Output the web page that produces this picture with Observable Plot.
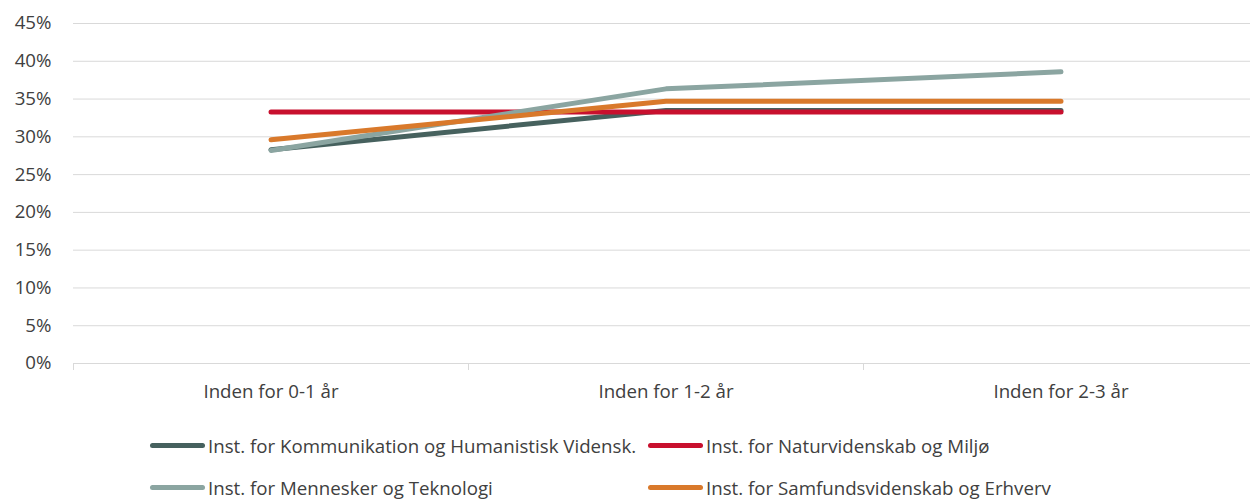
<!DOCTYPE html>
<html>
<head>
<meta charset="utf-8">
<script src="https://cdn.jsdelivr.net/npm/d3@7"></script>
<script src="https://cdn.jsdelivr.net/npm/@observablehq/plot@0.6"></script>
<style>
  html, body { margin: 0; padding: 0; background: #fff; }
  body { width: 1250px; height: 499px; overflow: hidden; font-family: "Open Sans", sans-serif; }
  #legend { position: relative; height: 84px; font-size: 18.7px; color: #404040; }
  .item { position: absolute; display: flex; align-items: center; white-space: nowrap; }
  .sw { width: 55px; height: 5px; border-radius: 3px; margin-right: 3px; }
</style>
</head>
<body>
<div id="chart"></div>
<div id="legend"></div>
<script>
const categories = ["Inden for 0-1 år", "Inden for 1-2 år", "Inden for 2-3 år"];
const seriesNames = [
  "Inst. for Kommunikation og Humanistisk Vidensk.",
  "Inst. for Naturvidenskab og Miljø",
  "Inst. for Mennesker og Teknologi",
  "Inst. for Samfundsvidenskab og Erhverv"
];
const seriesColors = ["#46615e", "#c8102e", "#8ba5a1", "#d9792b"];
const kommunikation = [0.283, 0.335, 0.335];
const natur = [0.333, 0.333, 0.333];
const mennesker = [0.282, 0.3635, 0.386];
const samfund = [0.296, 0.347, 0.347];
const yTicks = [0, 0.05, 0.10, 0.15, 0.20, 0.25, 0.30, 0.35, 0.40, 0.45];

const seriesValues = [kommunikation, natur, mennesker, samfund];
const data = [];
seriesNames.forEach((s, si) => {
  categories.forEach((c, ci) => data.push({series: s, cat: c, value: seriesValues[si][ci]}));
});
const catIndex = d => categories.indexOf(d.cat);

const plot = Plot.plot({
  width: 1250,
  height: 415,
  marginTop: 23,
  marginBottom: 52,
  marginLeft: 73,
  marginRight: 0,
  style: {fontFamily: "Open Sans, sans-serif", fontSize: "18.7px", color: "#404040", background: "#fff"},
  x: {domain: [-0.5, 2.5], range: [73, 1258]},
  y: {domain: [0, 0.45]},
  color: {domain: seriesNames, range: seriesColors},
  marks: [
    Plot.ruleY(yTicks.slice(1), {stroke: "#d9d9d9", strokeWidth: 1}),
    Plot.ruleY([0], {stroke: "#d9d9d9", strokeWidth: 1}),
    Plot.axisY({ticks: yTicks, tickSize: 0, tickPadding: 22, tickFormat: d => Math.round(d * 100) + "%", label: null, fill: "#404040"}),
    Plot.axisX({ticks: [-0.5, 0.5, 1.5, 2.5], tickSize: 7, tickFormat: () => "", stroke: "#d9d9d9", label: null}),
    Plot.axisX({ticks: [0, 1, 2], tickSize: 0, tickPadding: 21, tickFormat: i => categories[i], label: null, fill: "#404040"}),
    Plot.line(data, {x: catIndex, y: "value", z: "series", stroke: "series", strokeWidth: 5, strokeLinecap: "round", strokeLinejoin: "round"})
  ]
});
document.getElementById("chart").appendChild(plot);

const legend = document.getElementById("legend");
const positions = [[150, 30], [648, 30], [150, 72], [648, 72]];
seriesNames.forEach((s, i) => {
  const item = document.createElement("div");
  item.className = "item";
  item.style.left = positions[i][0] + "px";
  item.style.top = (positions[i][1] - 14) + "px";
  item.style.height = "28px";
  const sw = document.createElement("span");
  sw.className = "sw";
  sw.style.background = seriesColors[i];
  const t = document.createElement("span");
  t.textContent = s;
  item.appendChild(sw);
  item.appendChild(t);
  legend.appendChild(item);
});
</script>
</body>
</html>
